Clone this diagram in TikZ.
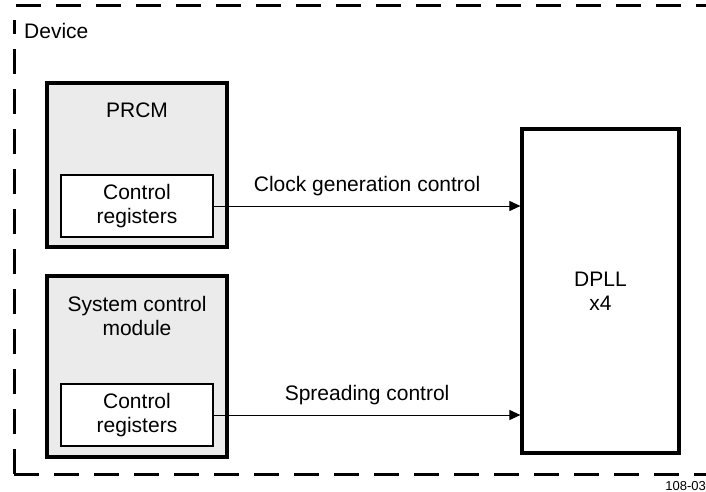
\documentclass[tikz,border=0pt]{standalone}
\usepackage{fontspec}
\setmainfont{Liberation Sans}
\usetikzlibrary{arrows.meta}

\definecolor{blockgray}{HTML}{EBEBEB}

\tikzset{
  outerblock/.style={draw, line width=3.2pt, fill=blockgray, minimum width=180pt, inner sep=0pt},
  regblock/.style={draw, line width=1.6pt, fill=white, minimum width=152pt, minimum height=62pt, align=center, inner sep=0pt},
  lbl/.style={align=center, inner sep=0pt},
  devborder/.style={line width=3pt, dash pattern=on 25pt off 15pt},
  ctrl/.style={line width=1pt, -{Triangle[length=11pt,width=10pt]}}
}

\begin{document}
\begin{tikzpicture}[line join=miter, x=1pt, y=-1pt, font=\fontsize{21}{24}\selectfont]
	\useasboundingbox (0,0) rectangle (706,492);
	%% device outline
	\draw [devborder] (16,6) -- (706,6);
	\draw [devborder] (14,474) -- (14,20);
	\draw [devborder] (14,474) -- (706,474);
	\node[lbl, anchor=west] (device) at (24,31) {Device};

	%% PRCM
	\node[outerblock, minimum height=164pt] (prcm) at (137,165) {};
	\node[lbl] (prcmlbl) at (137,110) {PRCM};
	\node[regblock] (prcmreg) at (137,206) {Control\\registers};

	%% system control module
	\node[outerblock, minimum height=181pt] (scm) at (137,366.5) {};
	\node[lbl] (scmlbl) at (137,316) {System control\\module};
	\node[regblock] (scmreg) at (137,415) {Control\\registers};

	%% DPLL
	\node[draw, line width=3.2pt, minimum width=157pt, minimum height=324pt, inner sep=0pt, align=center] (dpll) at (600.5,291) {DPLL\\x4};

	\draw [ctrl] (prcmreg.east) -- (prcmreg.east -| dpll.west) node[midway, above=6pt] {Clock generation control};
	\draw [ctrl] (scmreg.east) -- (scmreg.east -| dpll.west) node[midway, above=6pt] {Spreading control};

	\node[lbl, anchor=east, font=\fontsize{13}{15}\selectfont] (figid) at (706,486) {108-03};
\end{tikzpicture}
\end{document}
